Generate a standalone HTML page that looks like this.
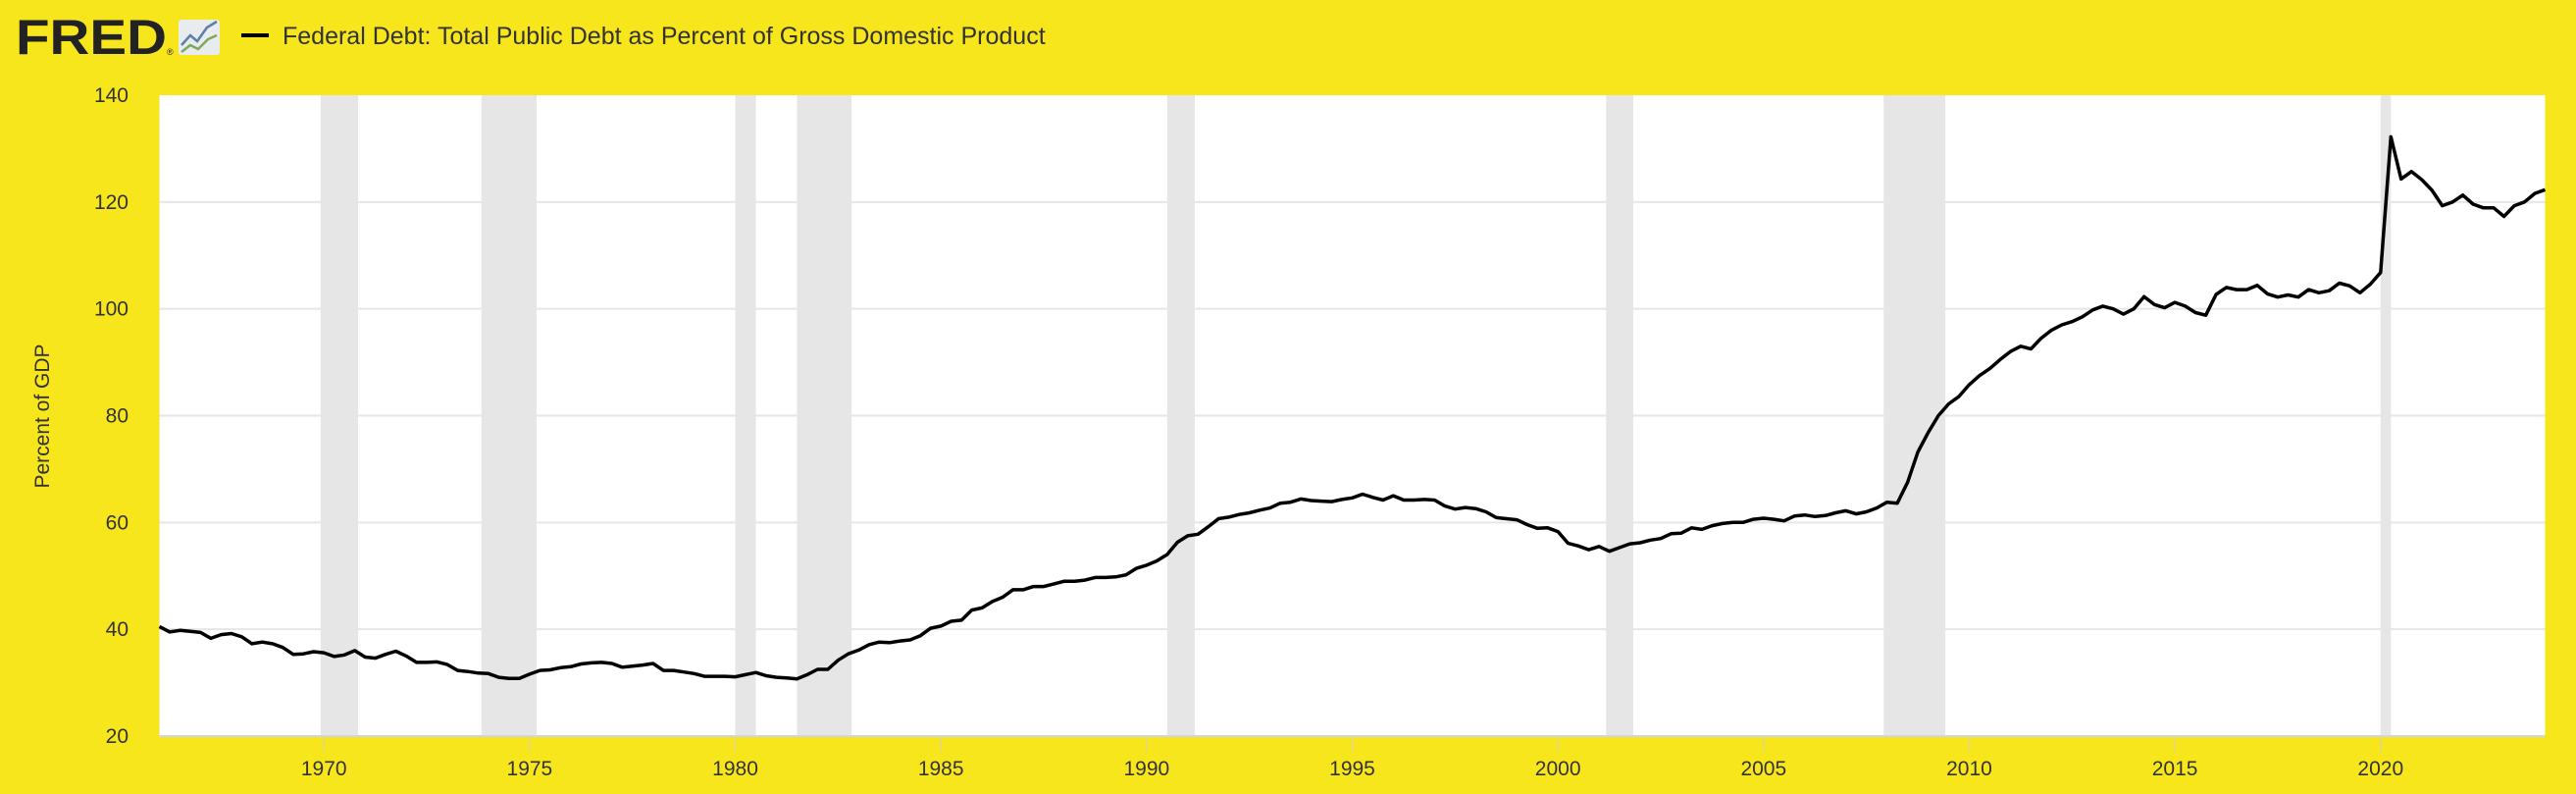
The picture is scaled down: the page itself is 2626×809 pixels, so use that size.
<!DOCTYPE html>
<html><head><meta charset="utf-8"><style>
html,body{margin:0;padding:0;background:#F7E61C;}
body{width:2626px;height:804px;overflow:hidden;font-family:"Liberation Sans",sans-serif;}
</style></head><body>
<svg width="2626" height="804" viewBox="0 0 2626 804" xmlns="http://www.w3.org/2000/svg">
<rect x="0" y="0" width="2626" height="804" fill="#F7E61C"/>
<g>
<text x="16" y="55" font-size="50" font-weight="bold" fill="#222" font-family="Liberation Sans, sans-serif" textLength="154" lengthAdjust="spacingAndGlyphs">FRED</text>
<text x="170" y="56" font-size="9" fill="#222">®</text>
<g>
<rect x="182" y="20" width="42" height="36" rx="3" fill="#e8ecef"/>
<polyline points="185,46 194,36 201,42 211,28 221,22" fill="none" stroke="#5b7fa6" stroke-width="2.5"/>
<polyline points="185,53 194,46 202,50 212,40 221,36" fill="none" stroke="#7da85a" stroke-width="2.5"/>
</g>
<rect x="246" y="34" width="28" height="4" fill="#000"/>
<text x="288" y="45" font-size="25" fill="#333">Federal Debt: Total Public Debt as Percent of Gross Domestic Product</text>
</g>
<rect x="162.5" y="97" width="2432" height="653" fill="#fff"/>
<g id="rec"></g>
<g id="grid"></g>
<g id="yt"></g>
<g id="xt"></g>
<text transform="translate(50,424) rotate(-90)" text-anchor="middle" font-size="21" fill="#333">Percent of GDP</text>
<g id="series"></g>
</svg>
<script>
const startYear = 1966;
const debtValues = [
40.5,39.5,39.8,39.6, 39.4,38.3,39.0,39.2, 38.6,37.3,37.6,37.3, 36.6,35.3,35.4,35.8,
35.6,34.9,35.2,36.0, 34.8,34.6,35.3,35.9, 35.0,33.8,33.8,33.9, 33.4,32.3,32.1,31.8,
31.7,31.0,30.8,30.8, 31.6,32.3,32.4,32.8, 33.0,33.5,33.7,33.8, 33.6,32.9,33.1,33.3,
33.6,32.3,32.3,32.0, 31.7,31.2,31.2,31.2, 31.1,31.5,31.9,31.3, 31.0,30.9,30.7,31.5,
32.5,32.5,34.2,35.4, 36.1,37.1,37.6,37.5, 37.8,38.0,38.8,40.2, 40.6,41.5,41.7,43.6,
44.0,45.2,46.0,47.4, 47.4,48.0,48.0,48.5, 49.0,49.0,49.2,49.7, 49.7,49.8,50.2,51.4,
52.0,52.8,54.0,56.3, 57.5,57.8,59.2,60.7, 61.0,61.5,61.8,62.3, 62.7,63.6,63.8,64.4,
64.1,64.0,63.9,64.3, 64.6,65.3,64.7,64.2, 65.0,64.2,64.2,64.3, 64.2,63.1,62.5,62.8,
62.6,62.0,60.9,60.7, 60.5,59.6,58.9,59.0, 58.3,56.1,55.6,54.9, 55.5,54.6,55.3,56.0,
56.2,56.7,57.0,57.9, 58.0,59.0,58.7,59.4, 59.8,60.0,60.0,60.6, 60.8,60.6,60.3,61.2,
61.4,61.1,61.3,61.8, 62.2,61.6,62.0,62.7, 63.8,63.6,67.5,73.2, 76.8,80.0,82.2,83.6,
85.8,87.5,88.8,90.5, 92.0,93.0,92.5,94.5, 96.0,97.0,97.6,98.5, 99.8,100.5,100.0,99.0,
100.0,102.3,100.8,100.2, 101.2,100.5,99.3,98.8, 102.7,104.0,103.6,103.6, 104.4,102.8,102.2,102.6,
102.2,103.6,103.0,103.4, 104.8,104.3,103.0,104.6, 106.8,132.2,124.3,125.7, 124.2,122.2,119.3,120.0,
121.3,119.6,118.9,118.9, 117.3,119.3,120.0,121.6, 122.3
];
const yTicks = [20,40,60,80,100,120,140];
const xTickYears = [1970,1975,1980,1985,1990,1995,2000,2005,2010,2015,2020];
const recessionStarts = [1969.92,1973.83,1980.0,1981.5,1990.5,2001.17,2007.92,2020.0];
const recessionEnds = [1970.83,1975.17,1980.5,1982.83,1991.17,2001.83,2009.42,2020.25];

const NS='http://www.w3.org/2000/svg';
const L=162.5,R=2594.5,T=97,B=750;
const x0=1966,x1=2024;
function xs(t){return L+(t-x0)/(x1-x0)*(R-L);}
function ys(v){return B-(v-20)/(140-20)*(B-T);}
function mk(tag,attrs,parent){const e=document.createElementNS(NS,tag);for(const k in attrs)e.setAttribute(k,attrs[k]);parent.appendChild(e);return e;}

const rec=document.getElementById('rec');
recessionStarts.forEach((s,i)=>{
  const r=mk('rect',{x:xs(s),y:T,width:xs(recessionEnds[i])-xs(s),height:B-T,fill:'#e6e6e6'},rec);
  
  
});
const grid=document.getElementById('grid'), yt=document.getElementById('yt');
yTicks.forEach(v=>{
  if(v>20&&v<140){const g=mk('line',{x1:L,x2:R,y1:ys(v),y2:ys(v),stroke:'#e6e6e6','stroke-width':2},grid);
  
  }
  const t=mk('text',{x:131,y:ys(v)+7,'text-anchor':'end','font-size':21,fill:'#333'},yt);
  t.textContent=v;
  
  
});
mk('line',{x1:L,x2:R,y1:B,y2:B,stroke:'#ccd6eb','stroke-width':2},yt);
const xt=document.getElementById('xt');
xTickYears.forEach(yr=>{
  const x=xs(yr);
  const tk=mk('line',{x1:x,x2:x,y1:B,y2:B+16,stroke:'#e0d88a','stroke-width':1.5},xt);
  
  
  const t=mk('text',{x:x,y:790,'text-anchor':'middle','font-size':21,fill:'#333'},xt);
  t.textContent=yr;
  
  
});
const pts=debtValues.map((v,i)=>xs(startYear+i/4).toFixed(1)+','+ys(v).toFixed(1)).join(' ');
const line=mk('polyline',{points:pts,fill:'none',stroke:'#000','stroke-width':3.5,'stroke-linejoin':'round'},document.getElementById('series'));


</script>
</body></html>
